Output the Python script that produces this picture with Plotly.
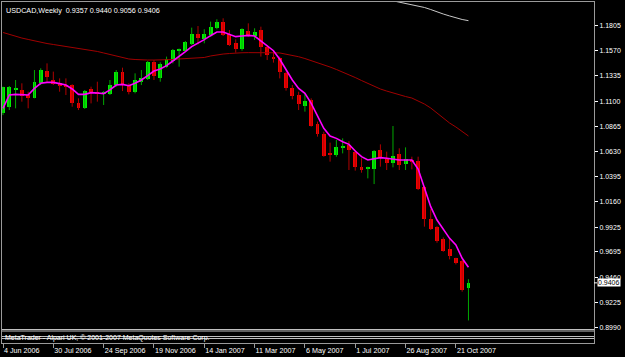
import pandas as pd
import plotly.graph_objects as go

# ---------------- data ----------------
SYMBOL = "USDCAD"
TIMEFRAME = "Weekly"
START_WEEK = "2006-06-04"

OPEN = [1.0985, 1.1048, 1.1210, 1.1204, 1.1157, 1.1132, 1.1266, 1.1381, 1.1297, 1.1266,
        1.1241, 1.1250, 1.1079, 1.1033, 1.1210, 1.1188, 1.1163, 1.1163, 1.1250, 1.1368,
        1.1250, 1.1188, 1.1275, 1.1306, 1.1468, 1.1312, 1.1421, 1.1474, 1.1574, 1.1567,
        1.1629, 1.1726, 1.1676, 1.1717, 1.1779, 1.1835, 1.1726, 1.1639, 1.1583, 1.1757,
        1.1710, 1.1763, 1.1608, 1.1515, 1.1505, 1.1365, 1.1225, 1.1157, 1.1058, 1.1111,
        1.0887, 1.0794, 1.0613, 1.0598, 1.0669, 1.0691, 1.0629, 1.0483, 1.0473, 1.0467,
        1.0644, 1.0558, 1.0526, 1.0607, 1.0514, 1.0551, 1.0545, 1.0302, 0.9998, 0.9930,
        0.9812, 0.9719, 0.9635, 0.9610, 0.9357]
HIGH = [1.1235, 1.1241, 1.1297, 1.1266, 1.1188, 1.1390, 1.1406, 1.1452, 1.1375, 1.1312,
        1.1312, 1.1257, 1.1126, 1.1204, 1.1235, 1.1281, 1.1194, 1.1297, 1.1390, 1.1412,
        1.1266, 1.1359, 1.1390, 1.1474, 1.1483, 1.1462, 1.1515, 1.1586, 1.1590, 1.1660,
        1.1785, 1.1800, 1.1770, 1.1841, 1.1863, 1.1872, 1.1763, 1.1676, 1.1779, 1.1825,
        1.1779, 1.1794, 1.1623, 1.1577, 1.1515, 1.1374, 1.1250, 1.1188, 1.1173, 1.1126,
        1.0909, 1.0815, 1.0713, 1.0738, 1.0753, 1.0728, 1.0644, 1.0567, 1.0489, 1.0644,
        1.0697, 1.0629, 1.0868, 1.0660, 1.0669, 1.0582, 1.0582, 1.0309, 1.0094, 0.9935,
        0.9830, 0.9821, 0.9640, 0.9619, 0.9440]
LOW = [1.0970, 1.1017, 1.1033, 1.1095, 1.1033, 1.1126, 1.1250, 1.1281, 1.1250, 1.1188,
       1.1157, 1.1048, 1.1017, 1.1027, 1.1079, 1.1095, 1.1064, 1.1157, 1.1235, 1.1194,
       1.1163, 1.1173, 1.1250, 1.1297, 1.1297, 1.1281, 1.1412, 1.1452, 1.1421, 1.1561,
       1.1623, 1.1629, 1.1639, 1.1701, 1.1770, 1.1707, 1.1614, 1.1552, 1.1570, 1.1701,
       1.1670, 1.1515, 1.1483, 1.1459, 1.1312, 1.1198, 1.1117, 1.1017, 1.1002, 1.0862,
       1.0769, 1.0582, 1.0536, 1.0582, 1.0613, 1.0458, 1.0452, 1.0433, 1.0380, 1.0327,
       1.0489, 1.0458, 1.0483, 1.0458, 1.0458, 1.0464, 1.0271, 0.9930, 0.9899, 0.9780,
       0.9696, 0.9625, 0.9578, 0.9324, 0.9056]
CLOSE = [1.1229, 1.1235, 1.1225, 1.1151, 1.1132, 1.1281, 1.1390, 1.1328, 1.1260, 1.1244,
         1.1232, 1.1079, 1.1033, 1.1194, 1.1182, 1.1170, 1.1182, 1.1250, 1.1375, 1.1250,
         1.1182, 1.1297, 1.1319, 1.1468, 1.1337, 1.1443, 1.1493, 1.1577, 1.1586, 1.1648,
         1.1726, 1.1685, 1.1723, 1.1794, 1.1835, 1.1717, 1.1623, 1.1583, 1.1772, 1.1707,
         1.1748, 1.1602, 1.1530, 1.1499, 1.1368, 1.1219, 1.1148, 1.1070, 1.1101, 1.0871,
         1.0794, 1.0592, 1.0598, 1.0669, 1.0676, 1.0644, 1.0483, 1.0467, 1.0489, 1.0638,
         1.0567, 1.0520, 1.0592, 1.0505, 1.0557, 1.0535, 1.0281, 0.9998, 0.9911, 0.9796,
         0.9706, 0.9656, 0.9588, 0.9339, 0.9406]

MA_FAST = [1.1033, 1.1157, 1.1163, 1.1163, 1.1157, 1.1219, 1.1266, 1.1275, 1.1275, 1.1263,
           1.1250, 1.1213, 1.1163, 1.1163, 1.1179, 1.1176, 1.1170, 1.1205, 1.1250, 1.1256,
           1.1244, 1.1266, 1.1297, 1.1337, 1.1381, 1.1399, 1.1431, 1.1474, 1.1514, 1.1561,
           1.1608, 1.1639, 1.1673, 1.1710, 1.1744, 1.1744, 1.1720, 1.1701, 1.1707, 1.1713,
           1.1707, 1.1664, 1.1620, 1.1570, 1.1490, 1.1390, 1.1297, 1.1219, 1.1173, 1.1080,
           1.0962, 1.0846, 1.0775, 1.0753, 1.0722, 1.0697, 1.0635, 1.0582, 1.0551, 1.0560,
           1.0573, 1.0567, 1.0557, 1.0551, 1.0551, 1.0551, 1.0467, 1.0296, 1.0116, 0.9992,
           0.9905, 0.9821, 0.9759, 0.9635, 0.9551]
MA_SLOW = [1.1740, 1.1721, 1.1702, 1.1688, 1.1675, 1.1660, 1.1648, 1.1637, 1.1628, 1.1619,
           1.1609, 1.1600, 1.1591, 1.1581, 1.1572, 1.1563, 1.1549, 1.1535, 1.1521, 1.1507,
           1.1493, 1.1488, 1.1483, 1.1483, 1.1483, 1.1483, 1.1483, 1.1488, 1.1493, 1.1497,
           1.1499, 1.1502, 1.1507, 1.1521, 1.1532, 1.1539, 1.1544, 1.1549, 1.1551, 1.1552,
           1.1553, 1.1553, 1.1553, 1.1551, 1.1549, 1.1539, 1.1527, 1.1514, 1.1497, 1.1479,
           1.1460, 1.1437, 1.1418, 1.1395, 1.1372, 1.1348, 1.1320, 1.1292, 1.1264, 1.1241,
           1.1213, 1.1194, 1.1176, 1.1157, 1.1143, 1.1129, 1.1101, 1.1073, 1.1036, 1.0989,
           1.0943, 1.0896, 1.0859, 1.0817, 1.0775]
MA_LONG = [None] * 60 + [1.2060, 1.2048, 1.2033, 1.2019, 1.2005, 1.1996, 1.1987, 1.1973,
                         1.1954, 1.1931, 1.1912, 1.1894, 1.1875, 1.1861, 1.1850]

Y_TICKS = [1.1805, 1.1570, 1.1335, 1.1100, 1.0865, 1.0630, 1.0395, 1.0160, 0.9925,
           0.9695, 0.9460, 0.9225, 0.8990]
Y_TICK_LABELS = ["1.1805", "1.1570", "1.1335", "1.1100", "1.0865", "1.0630", "1.0395",
                 "1.0160", "0.9925", "0.9695", "0.9460", "0.9225", "0.8990"]
X_TICK_DATES = ["2006-06-04", "2006-07-30", "2006-09-24", "2006-11-19", "2007-01-14",
                "2007-03-11", "2007-05-06", "2007-07-01", "2007-08-26", "2007-10-21"]
X_TICK_LABELS = ["4 Jun 2006", "30 Jul 2006", "24 Sep 2006", "19 Nov 2006", "14 Jan 2007",
                 "11 Mar 2007", "6 May 2007", "1 Jul 2007", "26 Aug 2007", "21 Oct 2007"]
COPYRIGHT = "MetaTrader - Alpari UK, \u00a9 2001-2007 MetaQuotes Software Corp."

# ---------------- layout / style constants ----------------
W, H = 625, 357
ML, MR, MT, MB = 2, 31, 2, 14
PW, PH = W - ML - MR, H - MT - MB
PX_PER_WEEK = 6.29
FIRST_BAR_PX = 1.0
PX_PER_UNIT = 1072.8
REF_PRICE, REF_PX = 1.1805, 23.5  # pixel from plot top

FONT = "Liberation Sans, Arial, sans-serif"
BG = "#000000"
FG = "#ffffff"
FRAME = "#9a9a9a"
UP_BODY, DN_BODY = "#00f000", "#f00000"
UP_WICK, DN_WICK = "#00a800", "#b00000"

WEEK_MS = 7 * 24 * 3600 * 1000
dates = pd.date_range(START_WEEK, periods=len(CLOSE), freq="7D")
start = pd.Timestamp(START_WEEK)
x0 = start - pd.Timedelta(weeks=FIRST_BAR_PX / PX_PER_WEEK)
x1 = start + pd.Timedelta(weeks=(PW - FIRST_BAR_PX) / PX_PER_WEEK)
y_top = REF_PRICE + REF_PX / PX_PER_UNIT
y_bot = y_top - PH / PX_PER_UNIT

up = [c >= o for o, c in zip(OPEN, CLOSE)]
min_h = 1.0 / PX_PER_UNIT
body_base = [min(o, c) for o, c in zip(OPEN, CLOSE)]
body_h = [max(abs(c - o), min_h) for o, c in zip(OPEN, CLOSE)]
body_col = [UP_BODY if u else DN_BODY for u in up]


def wick_xy(flag):
    xs, ys = [], []
    for d, h, l, u in zip(dates, HIGH, LOW, up):
        if u == flag:
            xs += [d, d, None]
            ys += [l, h, None]
    return xs, ys


fig = go.Figure()
for flag, col in ((True, UP_WICK), (False, DN_WICK)):
    wx, wy = wick_xy(flag)
    fig.add_trace(go.Scatter(x=wx, y=wy, mode="lines", line=dict(color=col, width=1),
                             hoverinfo="skip", showlegend=False))
fig.add_trace(go.Bar(x=dates, y=body_h, base=body_base, width=0.62 * WEEK_MS,
                     marker=dict(color=body_col, line=dict(width=0)),
                     hoverinfo="skip", showlegend=False))
fig.add_trace(go.Scatter(x=dates, y=MA_SLOW, mode="lines", line=dict(color="#a00000", width=1),
                         hoverinfo="skip", showlegend=False))
fig.add_trace(go.Scatter(x=dates, y=MA_LONG, mode="lines", line=dict(color="#c8c8c8", width=1),
                         hoverinfo="skip", showlegend=False))
fig.add_trace(go.Scatter(x=dates, y=MA_FAST, mode="lines", line=dict(color="#ff00ff", width=1.6),
                         hoverinfo="skip", showlegend=False))

# separators of the indicator sub-window (pixel rows below the price area)
def py(p):
    return 1 - (p - MT) / PH

for row in (329.5, 331.0, 336.5, 338.5):
    fig.add_shape(type="line", xref="paper", yref="paper", x0=0, x1=1, y0=py(row), y1=py(row),
                  line=dict(color="#c0c0c0", width=1), layer="above")

fig.add_annotation(xref="paper", yref="paper", x=0, y=py(337.5), xanchor="left", yanchor="middle",
                   xshift=1, text=COPYRIGHT, showarrow=False,
                   font=dict(family=FONT, size=7, color=FG))

header = f"{SYMBOL},{TIMEFRAME}\u00a0\u00a0{OPEN[-1]:.4f} {HIGH[-1]:.4f} {LOW[-1]:.4f} {CLOSE[-1]:.4f}"
fig.add_annotation(xref="paper", yref="paper", x=0, y=1, xanchor="left", yanchor="top",
                   xshift=2, yshift=-2, text=header, showarrow=False,
                   font=dict(family=FONT, size=7.2, color=FG))

# current price marker on the price scale
fig.add_shape(type="line", xref="paper", yref="y", x0=1, x1=1 + 3 / PW, y0=CLOSE[-1], y1=CLOSE[-1],
              line=dict(color=FG, width=1))
fig.add_annotation(xref="paper", yref="y", x=1, y=CLOSE[-1], xanchor="left", yanchor="middle",
                   xshift=3, text=f"{CLOSE[-1]:.4f}", showarrow=False, bgcolor="#ffffff",
                   borderpad=0, font=dict(family=FONT, size=7, color="#000000"))

fig.update_layout(
    width=W, height=H, margin=dict(l=ML, r=MR, t=MT, b=MB, pad=0),
    paper_bgcolor=BG, plot_bgcolor=BG, showlegend=False, bargap=0,
    xaxis=dict(type="date", range=[x0, x1], showgrid=False, zeroline=False,
               showline=True, mirror=True, linecolor=FRAME, linewidth=1,
               tickmode="array", tickvals=X_TICK_DATES, ticktext=X_TICK_LABELS,
               ticks="outside", ticklen=4, tickcolor=FRAME, tickwidth=1,
               ticklabelposition="outside right",
               tickfont=dict(family=FONT, size=7.2, color=FG)),
    yaxis=dict(range=[y_bot, y_top], side="right", showgrid=False, zeroline=False,
               showline=True, mirror=True, linecolor=FRAME, linewidth=1,
               tickmode="array", tickvals=Y_TICKS, ticktext=Y_TICK_LABELS,
               ticks="outside", ticklen=3, tickcolor=FG, tickwidth=1,
               tickfont=dict(family=FONT, size=7, color=FG)),
)

fig.write_html("out.html")
